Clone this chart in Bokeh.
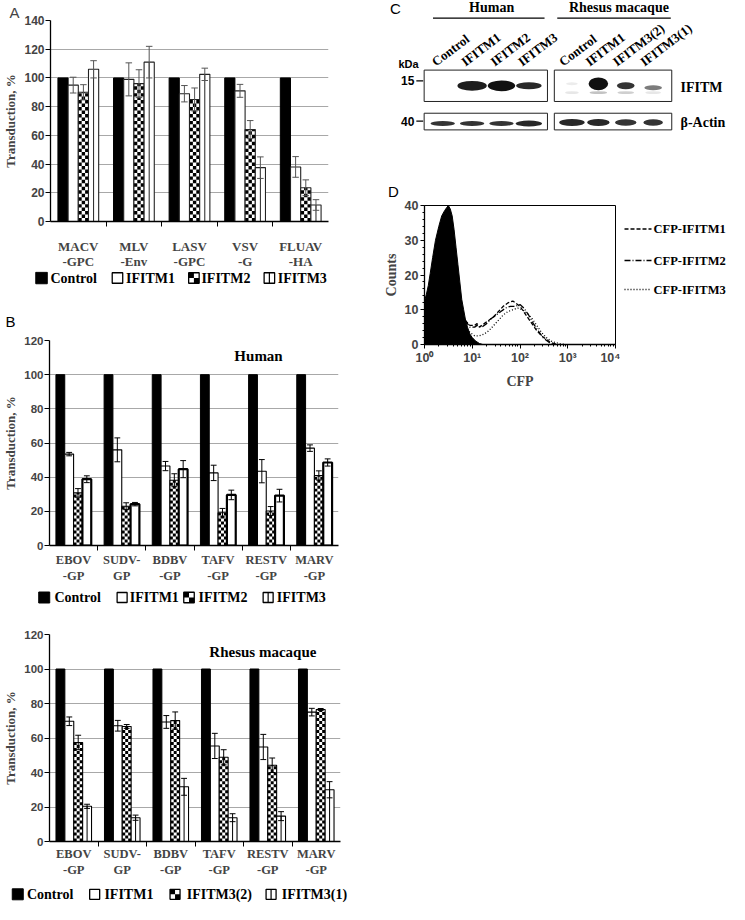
import numpy as np
from bokeh.plotting import figure
from bokeh.layouts import column, row
from bokeh.models import Range1d, FixedTicker
from bokeh.core.properties import value
from bokeh.embed import file_html
from bokeh.resources import INLINE

SERIF = "Liberation Serif"
SANS = "Liberation Sans"
S = 0.98

# ---------------- data ----------------
# Panel A
a_categories = ["MACV\n-GPC", "MLV\n-Env", "LASV\n-GPC", "VSV\n-G", "FLUAV\n-HA"]
a_series = ["Control", "IFITM1", "IFITM2", "IFITM3"]
a_control = [100, 100, 100, 100, 100]
a_ifitm1 = [95, 99, 89, 91, 38]
a_ifitm1_err = [5.5, 11.5, 5.7, 4.5, 7.2]
a_ifitm2 = [90, 96, 85, 64, 23.5]
a_ifitm2_err = [5.3, 9.7, 8.0, 6.3, 5.5]
a_ifitm3 = [106, 111, 102.5, 37.5, 11.5]
a_ifitm3_err = [6.0, 11.0, 4.3, 7.5, 3.7]

# Panel B (human)
b_categories = ["EBOV\n-GP", "SUDV-\nGP", "BDBV\n-GP", "TAFV\n-GP", "RESTV\n-GP", "MARV\n-GP"]
bh_series = ["Control", "IFITM1", "IFITM2", "IFITM3"]
bh_control = [100, 100, 100, 100, 100, 100]
bh_ifitm1 = [53.5, 56, 46.5, 42.5, 43.5, 57]
bh_ifitm1_err = [1.0, 7.0, 2.7, 4.5, 6.8, 1.9]
bh_ifitm2 = [30.8, 23, 38.2, 19.2, 20.2, 41]
bh_ifitm2_err = [2.5, 2.0, 3.8, 2.5, 2.6, 2.7]
bh_ifitm3 = [38.8, 24.2, 44.7, 29.6, 29.2, 48.6]
bh_ifitm3_err = [2.0, 1.0, 5.0, 2.8, 3.7, 2.1]

# Panel B (rhesus macaque)
br_series = ["Control", "IFITM1", "IFITM3(2)", "IFITM3(1)"]
br_control = [100, 100, 100, 100, 100, 100]
br_ifitm1 = [69.7, 67.1, 69.3, 55.4, 54.8, 75]
br_ifitm1_err = [2.5, 3.1, 3.7, 7.3, 7.3, 2.2]
br_ifitm3_2 = [57.4, 66.7, 70.1, 48.8, 44.2, 76.5]
br_ifitm3_2_err = [4.2, 1.1, 5.0, 4.4, 4.2, 0.6]
br_ifitm3_1 = [20.4, 13.8, 31.7, 13.8, 14.7, 30]
br_ifitm3_1_err = [1.2, 1.5, 4.9, 2.3, 2.6, 4.7]

# Panel C (western blot band intensities, 0..1)
c_human_lanes = ["Control", "IFITM1", "IFITM2", "IFITM3"]
c_rhesus_lanes = ["Control", "IFITM1", "IFITM3(2)", "IFITM3(1)"]
c_human_ifitm = [0.0, 0.95, 1.0, 0.9]
c_human_ifitm_thick = [0, 10, 11, 7]
c_human_actin = [0.85, 0.85, 0.85, 0.9]
c_rhesus_ifitm = [0.08, 1.0, 0.85, 0.55]
c_rhesus_ifitm_thick = [3, 13, 7, 5]
c_rhesus_ifitm_lower = [0.1, 0.25, 0.2, 0.1]
c_rhesus_actin = [0.9, 0.9, 0.85, 0.85]

# Panel D (flow cytometry histograms; x = log10 CFP)
d_ctrl_log = [0.00, 0.04, 0.08, 0.12, 0.17, 0.23, 0.30, 0.36, 0.42, 0.47, 0.50, 0.54, 0.58,
              0.62, 0.66, 0.70, 0.74, 0.78, 0.82, 0.86, 0.90, 0.95, 1.00, 1.07, 1.15, 1.22]
d_ctrl_cnt = [12.5, 14.5, 17, 20.5, 25, 30, 34, 37, 38.5, 39.5, 40, 39, 37,
              33, 28, 23, 18, 13, 10, 7, 5, 3, 2, 1, 0.3, 0]
d_i1_log = [0.85, 0.95, 1.05, 1.10, 1.15, 1.25, 1.35, 1.45, 1.55, 1.65, 1.75, 1.85, 1.90,
            1.95, 2.00, 2.05, 2.15, 2.25, 2.35, 2.45, 2.55, 2.62, 2.70, 2.80]
d_i1_cnt = [7, 5.5, 5.5, 6, 5, 6, 7, 8, 9.5, 11, 12, 12.5, 12,
            11.5, 11, 10, 8, 6, 4, 2.5, 1.5, 0.8, 0.3, 0]
d_i2_log = [0.85, 0.95, 1.05, 1.10, 1.20, 1.30, 1.40, 1.50, 1.60, 1.70, 1.80, 1.90, 2.00,
            2.08, 2.18, 2.28, 2.38, 2.48, 2.55, 2.62, 2.70]
d_i2_cnt = [7, 5, 5, 5.5, 5, 6, 7.5, 8.5, 9.5, 10.5, 11, 11, 11.5,
            10.5, 8.5, 6, 4, 2, 1.2, 0.5, 0]
d_i3_log = [0.85, 0.95, 1.05, 1.15, 1.25, 1.35, 1.45, 1.55, 1.65, 1.75, 1.85, 1.95, 2.05,
            2.15, 2.25, 2.35, 2.45, 2.55, 2.65, 2.75, 2.85, 2.95]
d_i3_cnt = [5, 3.5, 2.5, 2.5, 3, 4, 5.5, 7, 8.5, 9.5, 10, 10.5, 10,
            9, 7.5, 5.5, 3.5, 2, 1, 0.5, 0.2, 0]
d_series = ["CFP-IFITM1", "CFP-IFITM2", "CFP-IFITM3"]
d_x_ticks = [1, 10, 100, 1000, 10000]
d_x_tick_labels = ["10\u2070", "10\u00b9", "10\u00b2", "10\u00b3", "10\u2074"]


# ---------------- helpers ----------------
def blank_fig(width, height, xr, yr):
    p = figure(width=width, height=height, x_range=Range1d(*xr), y_range=Range1d(*yr),
               output_backend="svg", toolbar_location=None, min_border=0,
               min_border_left=0, min_border_right=0, min_border_top=0, min_border_bottom=0,
               x_axis_location=None, y_axis_location=None, frame_align=False)
    p.grid.visible = False
    p.outline_line_color = None
    return p


def bar_panel(width, height, fl, fr, ft, fb, ymax, cats, vals, errs, kinds,
              err_color, outline_color, tick_size, cat_size, cat_lh, cat_standoff,
              ylab_size, cap_frac):
    n = len(cats)
    p = figure(width=width, height=height, x_range=Range1d(0.5, n + 0.5),
               y_range=Range1d(0, ymax), output_backend="svg", toolbar_location=None,
               min_border_left=fl, min_border_right=width - fr,
               min_border_top=ft, min_border_bottom=height - fb, frame_align=False)
    p.outline_line_color = None
    p.xgrid.visible = False
    p.ygrid.ticker = FixedTicker(ticks=list(range(20, ymax + 1, 20)))
    p.ygrid.grid_line_color = "#a8a8a8"
    p.ygrid.grid_line_width = 1.2
    fw = fr - fl
    fh = fb - ft
    xc = np.arange(1, n + 1, dtype=float)
    w = 0.733 / 4
    for k, (v, e, kind) in enumerate(zip(vals, errs, kinds)):
        x = xc + (k - 1.5) * w
        v = np.asarray(v, dtype=float)
        if kind == "solid":
            p.vbar(x=x, top=v, width=w, fill_color="black", line_color="black")
        else:
            p.vbar(x=x, top=v, width=w, fill_color="white", line_color=None)
            if kind == "checker":
                cw = w / 3
                ch = (cw * fw / n) / (fh / ymax)
                L, R, B, T = [], [], [], []
                for xi, top in zip(x, v):
                    nrows = int(np.ceil(top / ch))
                    for r in range(nrows):
                        for c in range(3):
                            if (r + c) % 2 == 0:
                                L.append(xi - w / 2 + c * cw)
                                R.append(xi - w / 2 + (c + 1) * cw)
                                B.append(r * ch)
                                T.append(min((r + 1) * ch, top))
                p.quad(left=L, right=R, bottom=B, top=T, fill_color="black", line_color=None)
            if kind == "split":
                p.segment(x0=x, y0=np.zeros(n), x1=x, y1=v, line_color=outline_color, line_width=1)
            lw = 2.2 if kind == "thick" else 1.1
            p.vbar(x=x, top=v, width=w, fill_color=None, line_color=outline_color, line_width=lw)
        if e is not None:
            e = np.asarray(e, dtype=float)
            lo, hi = v - e, v + e
            cw2 = w * cap_frac
            p.segment(x0=x, y0=lo, x1=x, y1=hi, line_color=err_color, line_width=1)
            p.segment(x0=x - cw2, y0=hi, x1=x + cw2, y1=hi, line_color=err_color, line_width=1)
            p.segment(x0=x - cw2, y0=lo, x1=x + cw2, y1=lo, line_color=err_color, line_width=1)

    yax = p.yaxis[0]
    yax.ticker = FixedTicker(ticks=list(range(0, ymax + 1, 20)))
    yax.axis_label = "Transduction, %"
    yax.axis_label_text_font = SERIF
    yax.axis_label_text_font_style = "bold"
    yax.axis_label_text_font_size = ylab_size
    yax.axis_label_standoff = 3
    yax.major_label_text_font = SANS
    yax.major_label_text_font_style = "bold"
    yax.major_label_text_font_size = tick_size
    yax.major_label_standoff = 1
    yax.major_tick_out = 5
    yax.major_tick_in = 0
    yax.minor_tick_line_color = None
    yax.axis_line_color = "black"
    yax.axis_line_width = 1.3

    xax = p.xaxis[0]
    xax.ticker = FixedTicker(ticks=[float(t) for t in xc],
                             minor_ticks=[float(t) for t in np.arange(1.5, n, 1.0)])
    xax.major_label_overrides = {i + 1: c for i, c in enumerate(cats)}
    xax.major_tick_out = 0
    xax.major_tick_in = 0
    xax.minor_tick_out = 5
    xax.minor_tick_in = 0
    xax.minor_tick_line_color = "black"
    xax.major_label_text_font = SERIF
    xax.major_label_text_font_style = "bold"
    xax.major_label_text_font_size = cat_size
    xax.major_label_text_line_height = cat_lh
    xax.major_label_standoff = cat_standoff
    xax.axis_line_color = "black"
    xax.axis_line_width = 1.3
    return p


def legend_fig(width, height, yc, items, font_size):
    p = blank_fig(width, height, (0, width), (0, height))
    for kind, rx, size, tx, label in items:
        x0 = rx * S
        x1 = x0 + size
        b, t = yc - size / 2, yc + size / 2
        if kind == "solid":
            p.quad(left=[x0], right=[x1], bottom=[b], top=[t], fill_color="black", line_color="black")
        else:
            p.quad(left=[x0], right=[x1], bottom=[b], top=[t], fill_color="white", line_color=None)
            mx = (x0 + x1) / 2
            if kind == "checker":
                p.quad(left=[x0, mx], right=[mx, x1], bottom=[yc, b], top=[t, yc],
                       fill_color="black", line_color=None)
            if kind == "split":
                p.segment(x0=[mx], y0=[b], x1=[mx], y1=[t], line_color="black", line_width=1.2)
            p.quad(left=[x0], right=[x1], bottom=[b], top=[t], fill_color=None,
                   line_color="black", line_width=1.3)
        p.text(x=[tx * S], y=[yc], text=[label], text_font=value(SERIF), text_font_style="bold",
               text_font_size=font_size, text_baseline="middle", text_align="left")
    return p


def letter(p, x, y, txt):
    p.text(x=[x], y=[y], text=[txt], text_font=value(SANS), text_font_size="15px",
           text_baseline="middle", text_align="left")


WL = 362
WR = 367

# ---------------- Panel A ----------------
pA = bar_panel(WL, 271, 44, 328, 20, 221, 140, a_categories,
               [a_control, a_ifitm1, a_ifitm2, a_ifitm3],
               [None, a_ifitm1_err, a_ifitm2_err, a_ifitm3_err],
               ["solid", "open", "checker", "split"],
               err_color="#555555", outline_color="#222222", tick_size="12px",
               cat_size="13px", cat_lh=1.0, cat_standoff=12, ylab_size="13px", cap_frac=0.32)
pA.title.text = "A"
pA.title.align = "left"
pA.title.offset = -41
pA.title.standoff = 0
pA.title.text_font = SANS
pA.title.text_font_style = "normal"
pA.title.text_font_size = "15px"

legA = legend_fig(WL, 60, 53.5,
                  [("solid", 36, 11.5, 51, a_series[0]), ("open", 114, 10.5, 128, a_series[1]),
                   ("checker", 192, 10.5, 205, a_series[2]), ("split", 269, 10.5, 283, a_series[3])],
                  "14px")
letter(legA, 5, 10, "B")

# ---------------- Panel B human ----------------
pB1 = bar_panel(WL, 257, 44, 338, 9, 214, 120, b_categories,
                [bh_control, bh_ifitm1, bh_ifitm2, bh_ifitm3],
                [None, bh_ifitm1_err, bh_ifitm2_err, bh_ifitm3_err],
                ["solid", "open", "checker", "thick"],
                err_color="black", outline_color="black", tick_size="11.5px",
                cat_size="12.5px", cat_lh=1.2, cat_standoff=2, ylab_size="13px", cap_frac=0.33)
pB1.text(x=[4.84], y=[110.8], text=["Human"], text_font=value(SERIF), text_font_style="bold",
         text_font_size="15px", text_align="center", text_baseline="middle")
legB1 = legend_fig(WL, 24, 15,
                   [("solid", 39, 11, 55, bh_series[0]), ("open", 119, 10, 132, bh_series[1]),
                    ("checker", 187, 10.5, 202, bh_series[2]), ("split", 268, 10, 282, bh_series[3])],
                   "14px")

# ---------------- Panel B rhesus ----------------
pB2 = bar_panel(WL, 269, 44, 340, 22, 229, 120, b_categories,
                [br_control, br_ifitm1, br_ifitm3_2, br_ifitm3_1],
                [None, br_ifitm1_err, br_ifitm3_2_err, br_ifitm3_1_err],
                ["solid", "open", "checker", "split"],
                err_color="black", outline_color="black", tick_size="11.5px",
                cat_size="12.5px", cat_lh=1.2, cat_standoff=0, ylab_size="13px", cap_frac=0.33)
pB2.text(x=[4.9], y=[109.8], text=["Rhesus macaque"], text_font=value(SERIF), text_font_style="bold",
         text_font_size="15px", text_align="center", text_baseline="middle")
legB2 = legend_fig(WL, 23, 10.2,
                   [("solid", 12, 11, 27, br_series[0]), ("open", 91, 10, 106, br_series[1]),
                    ("checker", 173, 10, 190, br_series[2]), ("split", 271, 10, 287, br_series[3])],
                   "14px")

# ---------------- Panel C (blot) ----------------
CT = 203
pC = blank_fig(WR, 199, (370, 745), (0, CT))


def Y(v):
    return CT - v


pC.text(x=[398], y=[Y(8)], text=["C"], text_font=value(SANS), text_font_size="15px",
        text_baseline="middle", text_align="left")
pC.text(x=[502, 632], y=[Y(7), Y(7)], text=["Human", "Rhesus macaque"], text_font=value(SERIF),
        text_font_style="bold", text_font_size="14px", text_align="center", text_baseline="middle")
pC.segment(x0=[442, 569], y0=[Y(18), Y(18)], x1=[556, 685], y1=[Y(18), Y(18)],
           line_color="black", line_width=1.2)
h_lane_x = [452, 482, 512, 540]
r_lane_x = [584, 611, 639, 667]
pC.text(x=[x - 5 for x in h_lane_x] + [x - 7 for x in r_lane_x], y=[Y(70)] * 8,
        text=c_human_lanes + c_rhesus_lanes, angle=37, angle_units="deg",
        text_font=value(SERIF), text_font_style="bold", text_font_size="13px",
        text_align="left", text_baseline="bottom")
pC.quad(left=[433, 566, 433, 566], right=[559, 686, 559, 686],
        bottom=[Y(103), Y(103), Y(132), Y(132)], top=[Y(71), Y(71), Y(115), Y(115)],
        fill_color="white", line_color="#222222", line_width=1)
hi_x, hi_y, hi_w, hi_h, hi_a = [], [], [], [], []
for x, inten, th, bw in zip(h_lane_x, c_human_ifitm, c_human_ifitm_thick, [26, 30, 28, 26]):
    if inten > 0:
        hi_x.append(x); hi_y.append(Y(87)); hi_w.append(bw); hi_h.append(th); hi_a.append(inten)
pC.ellipse(x=hi_x, y=hi_y, width=hi_w, height=hi_h, fill_color="#111111", fill_alpha=hi_a, line_color=None)
pC.ellipse(x=r_lane_x, y=[Y(85), Y(85), Y(87), Y(89)], width=[12, 20, 18, 18],
           height=c_rhesus_ifitm_thick, fill_color="#111111", fill_alpha=c_rhesus_ifitm, line_color=None)
pC.ellipse(x=r_lane_x, y=[Y(94)] * 4, width=[14, 18, 17, 16], height=[3] * 4,
           fill_color="#111111", fill_alpha=c_rhesus_ifitm_lower, line_color=None)
pC.ellipse(x=h_lane_x, y=[Y(125.5)] * 4, width=[25, 25, 25, 27], height=[5, 5, 5, 6],
           fill_color="#111111", fill_alpha=c_human_actin, line_color=None)
pC.ellipse(x=r_lane_x, y=[Y(124.5)] * 4, width=[26, 23, 22, 20], height=[7, 7, 6.5, 6.5],
           fill_color="#111111", fill_alpha=c_rhesus_actin, line_color=None)
pC.text(x=[417], y=[Y(65)], text=["kDa"], text_font=value(SANS), text_font_style="bold",
        text_font_size="11px", text_align="center", text_baseline="middle")
pC.text(x=[423, 423], y=[Y(82), Y(123)], text=["15", "40"], text_font=value(SANS),
        text_font_style="bold", text_font_size="12px", text_align="right", text_baseline="middle")
pC.segment(x0=[425, 425], y0=[Y(82), Y(123)], x1=[432, 432], y1=[Y(82), Y(123)],
           line_color="black", line_width=1.2)
pC.text(x=[695, 695], y=[Y(89), Y(124)], text=["IFITM", "\u03b2-Actin"], text_font=value(SERIF),
        text_font_style="bold", text_font_size="14px", text_align="left", text_baseline="middle")
pC.text(x=[396], y=[Y(203)], text=["D"], text_font=value(SANS), text_font_size="15px",
        text_baseline="bottom", text_align="left")

# ---------------- Panel D (flow) ----------------
WD = 258
HD = 193
pD = figure(width=WD, height=HD, x_axis_type="log", x_range=Range1d(1, 1e4), y_range=Range1d(0, 40),
            output_backend="svg", toolbar_location=None, frame_align=False,
            min_border_left=62, min_border_right=5, min_border_top=6, min_border_bottom=48)
pD.grid.visible = False
pD.outline_line_color = "black"
pD.outline_line_width = 1
pD.varea(x=10 ** np.array(d_ctrl_log), y1=np.zeros(len(d_ctrl_log)), y2=d_ctrl_cnt, fill_color="black")
pD.line(x=10 ** np.array(d_ctrl_log), y=d_ctrl_cnt, line_color="black", line_width=1)
pD.line(x=10 ** np.array(d_i1_log), y=d_i1_cnt, line_color="black", line_width=1.3, line_dash="4 2")
pD.line(x=10 ** np.array(d_i2_log), y=d_i2_cnt, line_color="black", line_width=1.3, line_dash="6 2 1 2")
pD.line(x=10 ** np.array(d_i3_log), y=d_i3_cnt, line_color="black", line_width=1.3, line_dash="1 2")
xa = pD.xaxis[0]
xa.ticker = FixedTicker(ticks=d_x_ticks,
                        minor_ticks=[k * 10 ** e for e in range(4) for k in range(2, 10)])
xa.major_label_overrides = {t: l for t, l in zip(d_x_ticks, d_x_tick_labels)}
xa.axis_label = "CFP"
ya = pD.yaxis[0]
ya.ticker = FixedTicker(ticks=[0, 10, 20, 30, 40],
                        minor_ticks=[2, 4, 6, 8, 12, 14, 16, 18, 22, 24, 26, 28, 32, 34, 36, 38])
ya.axis_label = "Counts"
for ax in (xa, ya):
    ax.axis_label_text_font = SERIF
    ax.axis_label_text_font_style = "bold"
    ax.axis_label_text_font_size = "14px"
    ax.axis_label_standoff = 6
    ax.major_label_text_font = SANS
    ax.major_label_text_font_style = "bold"
    ax.major_label_text_font_size = "12.5px"
    ax.major_label_standoff = 2
    ax.major_tick_out = 4
    ax.major_tick_in = 0
    ax.minor_tick_out = 2
    ax.minor_tick_in = 0
    ax.axis_line_color = "black"
    ax.axis_line_width = 1.3
ya.axis_label_standoff = 3

pDleg = blank_fig(WR - WD, HD, (0, WR - WD), (0, HD))
for yy, dash, lab in zip([163.5, 132, 103], ["4 2", "6 2 1 2", "1 2"], d_series):
    pDleg.line(x=[4, 31], y=[yy, yy], line_color="black", line_width=1.4, line_dash=dash)
    pDleg.text(x=[33], y=[yy], text=[lab], text_font=value(SERIF), text_font_style="bold",
               text_font_size="12.5px", text_baseline="middle", text_align="left")

left = column(pA, legA, pB1, legB1, pB2, legB2)
right = column(pC, row(pD, pDleg))
layout = row(left, right)

open("out.html", "w").write(file_html(layout, INLINE))
